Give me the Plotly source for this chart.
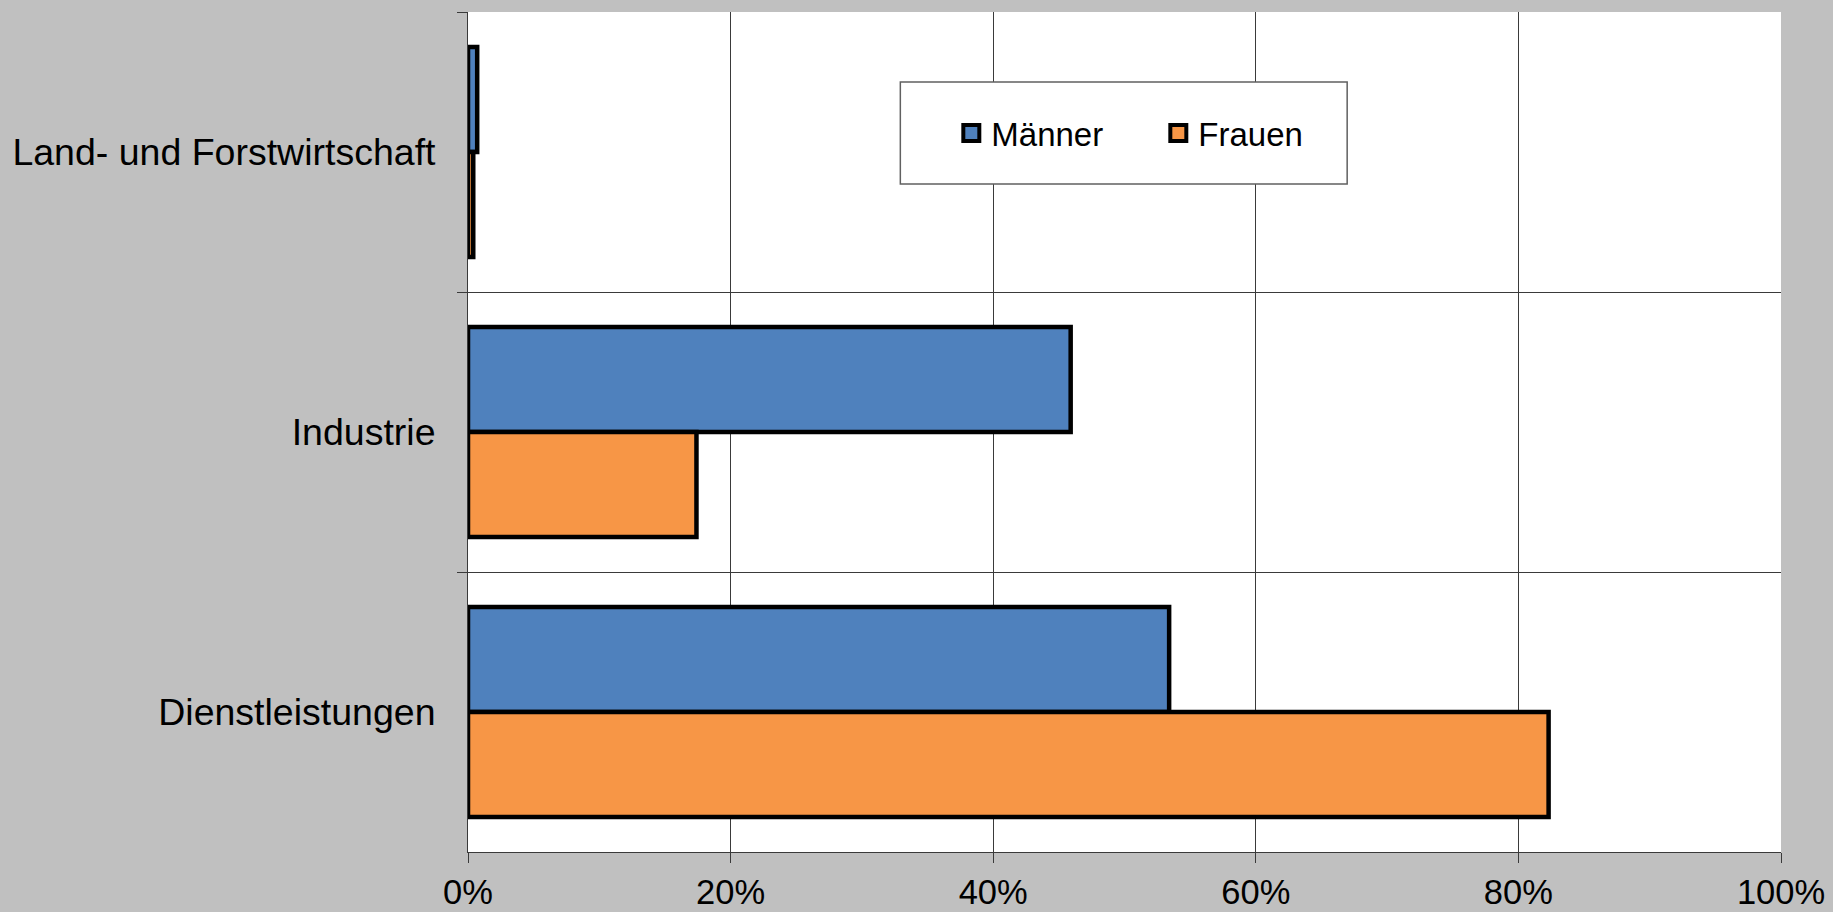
import plotly.graph_objects as go

categories = ["Land- und Forstwirtschaft", "Industrie", "Dienstleistungen"]
maenner = [0.007, 0.459, 0.534]
frauen = [0.004, 0.174, 0.823]
x_ticks = [0, 0.2, 0.4, 0.6, 0.8, 1.0]
x_tick_labels = ["0%", "20%", "40%", "60%", "80%", "100%"]
series_names = ["Männer", "Frauen"]
series_colors = ["#4F81BD", "#F79646"]

FONT = "Liberation Sans, Arial, sans-serif"
GRID = "#3a3a3a"

fig = go.Figure()
for name, vals, col in zip(series_names, [maenner, frauen], series_colors):
    fig.add_trace(go.Bar(
        name=name, y=categories, x=vals, orientation="h",
        marker=dict(color=col, line=dict(color="black", width=4.5)),
        showlegend=False, legendgroup=name,
    ))
# legend entries (square keys like the original)
for name, col in zip(series_names, series_colors):
    fig.add_trace(go.Scatter(
        name=name, x=[None], y=[None], mode="markers",
        marker=dict(symbol="square", size=16, color=col,
                    line=dict(color="black", width=4)),
        showlegend=True, legendgroup=name, hoverinfo="skip",
    ))

W, H = 1833, 912
L, R, T, B = 467.5, 52, 12, 60
pw, ph = W - L - R, H - T - B

def px_x(p):
    return (p - L) / pw

def px_y(p):
    return (H - B - p) / ph

fig.add_shape(type="rect", xref="paper", yref="paper",
              x0=px_x(900), x1=px_x(1347), y0=px_y(184), y1=px_y(82),
              line=dict(color="#606060", width=1.5), fillcolor="white", layer="above")

fig.update_layout(
    width=W, height=H,
    autosize=False,
    margin=dict(l=L, r=R, t=T, b=B, pad=0, autoexpand=False),
    paper_bgcolor="#C0C0C0",
    plot_bgcolor="white",
    barmode="group",
    bargap=0.25,
    bargroupgap=0,
    font=dict(family=FONT, color="black"),
    showlegend=True,
    legend=dict(
        orientation="h",
        x=px_x(951), xanchor="left",
        y=px_y(133), yanchor="middle",
        bgcolor="rgba(0,0,0,0)",
        borderwidth=0,
        font=dict(size=33, family=FONT, color="black"),
        entrywidth=162,
        traceorder="normal",
        itemsizing="trace",
    ),
    xaxis=dict(
        range=[0, 1],
        tickvals=x_ticks, ticktext=x_tick_labels,
        tickfont=dict(size=34.5, family=FONT, color="black"),
        ticks="outside", ticklen=10, tickcolor=GRID, tickwidth=1,
        ticklabelstandoff=0,
        showgrid=True, gridcolor=GRID, gridwidth=1,
        showline=True, linecolor=GRID, linewidth=1,
        zeroline=False,
        automargin=False,
        fixedrange=True,
    ),
    yaxis=dict(
        categoryorder="array", categoryarray=categories,
        autorange="reversed",
        tickson="boundaries",
        tickfont=dict(size=37.5, family=FONT, color="black"),
        ticks="outside", ticklen=10, tickcolor=GRID, tickwidth=1,
        ticklabelstandoff=24,
        showgrid=True, gridcolor=GRID, gridwidth=1,
        showline=True, linecolor=GRID, linewidth=1,
        zeroline=False,
        automargin=False,
        fixedrange=True,
    ),
)

fig.write_html("out.html", config={"displayModeBar": False},
               post_script="document.body.style.margin='0px';")
